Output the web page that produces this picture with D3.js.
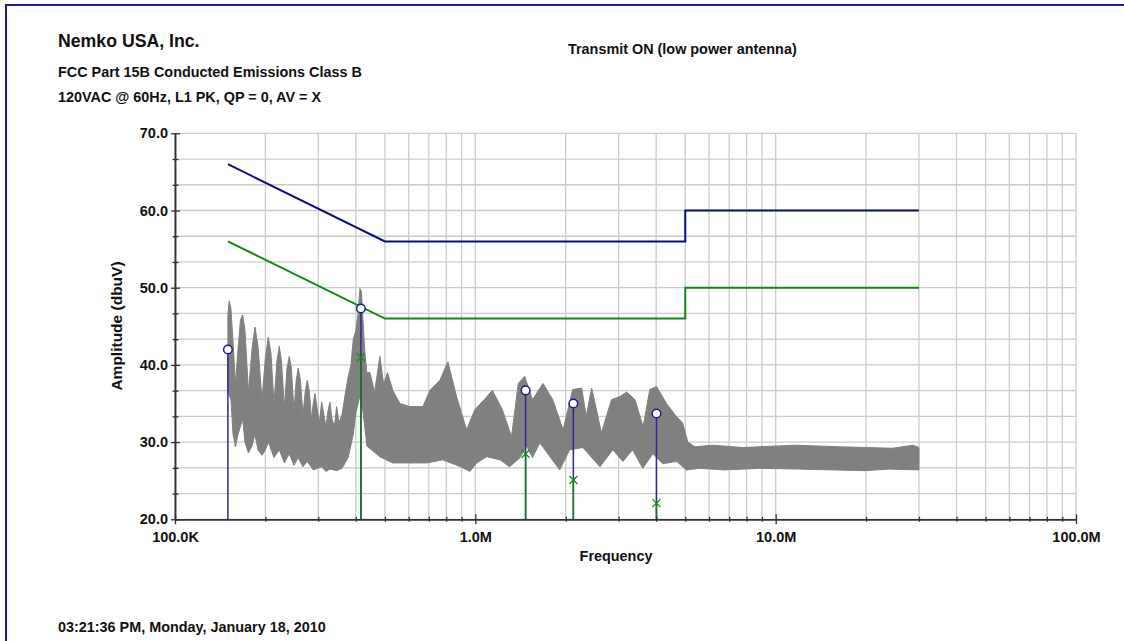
<!DOCTYPE html>
<html>
<head>
<meta charset="utf-8">
<script src="https://cdn.jsdelivr.net/npm/d3@7"></script>
<style>
  body { margin: 0; background: #fff; }
  text { font-family: 'Liberation Sans', Arial, sans-serif; font-weight: bold; fill: #111; }
</style>
</head>
<body>
<div id="chart"></div>
<script>
// limit lines (QP = navy, AV = green)
const limitFreq = [150e3, 500e3, 5e6, 5e6, 30e6]
const qpLimit = [66, 56, 56, 60, 60]
const avLimit = [56, 46, 46, 50, 50]

// measured peaks: circle = QP, cross = AV
const peakFreq = [150e3, 416e3, 1.47e6, 2.12e6, 4.01e6]
const peakQP = [42.0, 47.3, 36.7, 35.0, 33.7]
const peakAV = [null, 41.0, 28.5, 25.1, 22.1]

const upperFreq = [150.0e3, 151.6e3, 153.6e3, 156.0e3, 159.0e3, 162.1e3, 165.2e3, 168.0e3, 171.0e3, 175.6e3, 180.4e3, 184.6e3, 188.9e3, 194.8e3, 200.1e3, 204.5e3, 208.7e3, 213.6e3, 218.5e3, 222.4e3, 226.2e3, 231.4e3, 235.9e3, 240.1e3, 244.2e3, 248.9e3, 253.3e3, 257.2e3, 261.6e3, 266.7e3, 271.4e3, 275.6e3, 280.3e3, 284.6e3, 288.6e3, 292.4e3, 296.9e3, 302.6e3, 307.8e3, 313.3e3, 318.1e3, 323.1e3, 328.0e3, 333.1e3, 339.5e3, 345.3e3, 351.5e3, 359.6e3, 368.0e3, 377.4e3, 385.3e3, 392.1e3, 400.3e3, 406.5e3, 412.8e3, 417.5e3, 422.3e3, 428.9e3, 435.5e3, 445.6e3, 462e3, 481e3, 495e3, 510e3, 531e3, 561e3, 605e3, 669e3, 706e3, 762e3, 810e3, 866e3, 935e3, 996e3, 1.07e6, 1.14e6, 1.23e6, 1.32e6, 1.39e6, 1.46e6, 1.55e6, 1.68e6, 1.81e6, 1.96e6, 2.11e6, 2.26e6, 2.34e6, 2.44e6, 2.63e6, 2.84e6, 3.03e6, 3.19e6, 3.40e6, 3.62e6, 3.81e6, 4.01e6, 4.33e6, 4.67e6, 4.90e6, 5.10e6, 5.38e6, 6.17e6, 7.77e6, 11.6e6, 16.1e6, 24.5e6, 28.6e6, 30e6]
const upperDb = [46.5, 48.3, 47.2, 43.0, 37.5, 42.0, 45.8, 46.5, 44.5, 36.5, 42.0, 44.9, 42.5, 35.5, 41.0, 43.6, 41.5, 35.0, 40.5, 42.4, 40.5, 34.5, 39.5, 41.1, 39.5, 34.0, 38.0, 39.6, 38.0, 33.5, 36.5, 38.0, 36.5, 33.0, 35.0, 36.3, 34.5, 32.5, 35.2, 33.5, 32.0, 34.0, 35.2, 33.0, 32.0, 34.6, 32.5, 33.5, 36.0, 38.5, 40.0, 43.2, 44.5, 46.5, 49.9, 49.5, 46.0, 41.5, 39.0, 39.0, 36.5, 41.1, 37.5, 39.0, 36.7, 35.0, 34.6, 34.6, 36.7, 38.0, 40.4, 35.9, 31.6, 34.2, 35.5, 36.7, 34.2, 30.7, 37.6, 38.5, 35.5, 37.6, 35.5, 31.6, 36.8, 37.0, 33.3, 37.0, 31.2, 35.5, 35.9, 36.5, 35.5, 32.0, 36.8, 37.2, 35.0, 33.3, 32.5, 30.0, 29.4, 29.6, 29.3, 29.6, 29.4, 29.2, 29.6, 29.3]
const lowerFreq = [150.0e3, 153.6e3, 156.0e3, 159.0e3, 162.1e3, 168.0e3, 171.0e3, 175.6e3, 180.4e3, 184.6e3, 188.9e3, 194.8e3, 200.1e3, 204.5e3, 213.6e3, 222.4e3, 231.4e3, 240.1e3, 248.9e3, 257.2e3, 266.7e3, 275.6e3, 288.6e3, 307.8e3, 318.1e3, 328.0e3, 345.3e3, 359.6e3, 377.4e3, 392.1e3, 400.3e3, 412.8e3, 422.3e3, 435.5e3, 481e3, 531e3, 690e3, 779e3, 895e3, 959e3, 1.01e6, 1.09e6, 1.21e6, 1.30e6, 1.41e6, 1.48e6, 1.55e6, 1.64e6, 1.91e6, 2.06e6, 2.28e6, 2.60e6, 2.87e6, 3.10e6, 3.34e6, 3.61e6, 3.90e6, 4.21e6, 4.68e6, 5.04e6, 5.59e6, 6.77e6, 8.85e6, 12.0e6, 19.8e6, 24.0e6, 30e6]
const lowerDb = [36.5, 35.5, 31.0, 29.4, 31.0, 33.0, 30.0, 28.6, 29.5, 31.0, 29.0, 28.3, 29.0, 30.0, 28.0, 29.0, 27.3, 28.5, 27.0, 28.0, 26.8, 27.5, 26.4, 26.8, 26.2, 26.5, 26.3, 26.6, 28.0, 31.0, 33.8, 36.0, 34.0, 29.5, 28.1, 27.3, 27.3, 27.7, 26.8, 26.2, 27.3, 28.1, 27.7, 26.8, 28.0, 29.5, 28.0, 29.9, 26.4, 29.0, 29.3, 26.8, 29.0, 27.5, 29.0, 26.6, 28.5, 27.2, 27.5, 26.4, 26.6, 26.4, 26.6, 26.5, 26.3, 26.5, 26.4]

const decadeTicks = [1e5, 1e6, 1e7, 1e8]
const decadeLabels = ['100.0K', '1.0M', '10.0M', '100.0M']
const yTicks = [20, 30, 40, 50, 60, 70]

const W = 1124
const H = 641
const plot = { left: 175, right: 1076, top: 133.3, bottom: 519.3 }

const svg = d3.select('#chart').append('svg')
  .attr('width', W)
  .attr('height', H)

const x = d3.scaleLog().domain([1e5, 1e8]).range([plot.left, plot.right])
const y = d3.scaleLinear().domain([20, 70]).range([plot.bottom, plot.top])

// frame (right and bottom edges fall outside the picture)
svg.append('rect')
  .attr('x', 6).attr('y', 5)
  .attr('width', W + 20).attr('height', H + 20)
  .attr('fill', 'none')
  .attr('stroke', '#1c1c8a')
  .attr('stroke-width', 2)

// grid: every 1..9 per decade, and every 10/3 dB
const xGrid = []
decadeTicks.slice(0, 3).forEach(function (d) {
  for (let k = 1; k < 10; k++) xGrid.push(d * k)
})
xGrid.push(1e8)
const yGrid = d3.range(0, 16).map(function (i) { return 20 + i * 10 / 3 })

svg.append('g').selectAll('line').data(xGrid).join('line')
  .attr('x1', function (d) { return x(d) }).attr('x2', function (d) { return x(d) })
  .attr('y1', plot.top).attr('y2', plot.bottom)
  .attr('stroke', '#cccccc').attr('stroke-width', 1.3)
svg.append('g').selectAll('line').data(yGrid).join('line')
  .attr('x1', plot.left).attr('x2', plot.right)
  .attr('y1', function (d) { return y(d) }).attr('y2', function (d) { return y(d) })
  .attr('stroke', '#cccccc').attr('stroke-width', 1.3)

// the scan trace, filled between its envelopes
const line = d3.line()
  .x(function (d) { return x(d[0]) })
  .y(function (d) { return y(d[1]) })
const band = upperFreq.map(function (f, i) { return [f, upperDb[i]] })
const bandLow = lowerFreq.map(function (f, i) { return [f, lowerDb[i]] }).reverse()
svg.append('path')
  .datum(band.concat(bandLow))
  .attr('fill', '#808080')
  .attr('stroke', '#808080')
  .attr('stroke-width', 1)
  .attr('stroke-linejoin', 'round')
  .attr('d', function (d) { return line(d) + 'Z' })

// limit lines
function limitLine (vals, color) {
  svg.append('path')
    .datum(limitFreq.map(function (f, i) { return [f, vals[i]] }))
    .attr('fill', 'none')
    .attr('stroke', color)
    .attr('stroke-width', 2)
    .attr('d', line)
}
limitLine(avLimit, '#0e8a0e')
limitLine(qpLimit, '#0b0b80')

// stems
svg.append('g').selectAll('line').data(peakFreq).join('line')
  .attr('x1', function (d) { return x(d) }).attr('x2', function (d) { return x(d) })
  .attr('y1', y(20)).attr('y2', function (d, i) { return y(peakQP[i]) })
  .attr('stroke', '#2a2a9a').attr('stroke-width', 1.5)
const avIdx = peakFreq.map(function (d, i) { return i }).filter(function (i) { return peakAV[i] !== null })
svg.append('g').selectAll('line').data(avIdx).join('line')
  .attr('x1', function (i) { return x(peakFreq[i]) }).attr('x2', function (i) { return x(peakFreq[i]) })
  .attr('y1', y(20)).attr('y2', function (i) { return y(peakAV[i]) })
  .attr('stroke', '#1a7a1a').attr('stroke-width', 1.5)

// AV crosses
svg.append('g').selectAll('path').data(avIdx).join('path')
  .attr('transform', function (i) { return 'translate(' + x(peakFreq[i]) + ',' + y(peakAV[i]) + ')' })
  .attr('d', 'M-4,-4L4,4M-4,4L4,-4')
  .attr('stroke', '#1a8a1a').attr('stroke-width', 1.3)

// QP circles
svg.append('g').selectAll('circle').data(peakFreq).join('circle')
  .attr('cx', function (d) { return x(d) })
  .attr('cy', function (d, i) { return y(peakQP[i]) })
  .attr('r', 4.3)
  .attr('fill', '#fff')
  .attr('stroke', '#1c1c8c')
  .attr('stroke-width', 1.5)

// axes
const minorX = xGrid.filter(function (d) { return decadeTicks.indexOf(d) < 0 })
const gx = svg.append('g').attr('transform', 'translate(0,' + plot.bottom + ')')
gx.call(d3.axisBottom(x).tickValues(minorX).tickFormat('').tickSizeOuter(0))
gx.selectAll('.tick line').attr('y1', -2.5).attr('y2', 2.5)
const gx2 = svg.append('g').attr('transform', 'translate(0,' + plot.bottom + ')')
gx2.call(d3.axisBottom(x).tickValues(decadeTicks).tickSizeOuter(0)
  .tickFormat(function (d, i) { return decadeLabels[i] }))
gx2.selectAll('.tick line').attr('y1', -5).attr('y2', 5)
gx2.selectAll('.tick text').attr('y', 12).attr('dy', '0.71em')

const minorY = yGrid.filter(function (d) { return yTicks.indexOf(Math.round(d * 1000) / 1000) < 0 })
const gy = svg.append('g').attr('transform', 'translate(' + plot.left + ',0)')
gy.call(d3.axisLeft(y).tickValues(minorY).tickFormat('').tickSizeOuter(0))
gy.selectAll('.tick line').attr('x1', -2.5).attr('x2', 3.5)
const gy2 = svg.append('g').attr('transform', 'translate(' + plot.left + ',0)')
gy2.call(d3.axisLeft(y).tickValues(yTicks).tickSizeOuter(0).tickFormat(d3.format('.1f')))
gy2.selectAll('.tick line').attr('x1', -4).attr('x2', 5)
gy2.selectAll('.tick text').attr('x', -7)
svg.selectAll('.domain').attr('stroke', '#333').attr('stroke-width', 1.5)
svg.selectAll('.tick line').attr('stroke', '#333').attr('stroke-width', 1.3)
svg.selectAll('.tick text').style('font-size', '14.5px').style('font-family', "'Liberation Sans', Arial, sans-serif").style('font-weight', 'bold').attr('fill', '#111')

// titles
svg.append('text').attr('x', 58).attr('y', 47).style('font-size', '17.7px').text('Nemko USA, Inc.')
svg.append('text').attr('x', 58).attr('y', 77).style('font-size', '14.4px').text('FCC Part 15B Conducted Emissions Class B')
svg.append('text').attr('x', 58).attr('y', 101.5).style('font-size', '14.4px').text('120VAC @ 60Hz, L1 PK, QP = 0, AV = X')
svg.append('text').attr('x', 568).attr('y', 53.5).style('font-size', '14.4px').text('Transmit ON (low power antenna)')
svg.append('text').attr('x', 616).attr('y', 561).attr('text-anchor', 'middle').style('font-size', '14.4px').text('Frequency')
svg.append('text')
  .attr('transform', 'translate(122,326) rotate(-90)')
  .attr('text-anchor', 'middle').style('font-size', '15.5px')
  .text('Amplitude (dbuV)')
svg.append('text').attr('x', 58).attr('y', 632).style('font-size', '14.4px').text('03:21:36 PM, Monday, January 18, 2010')
</script>
</body>
</html>
